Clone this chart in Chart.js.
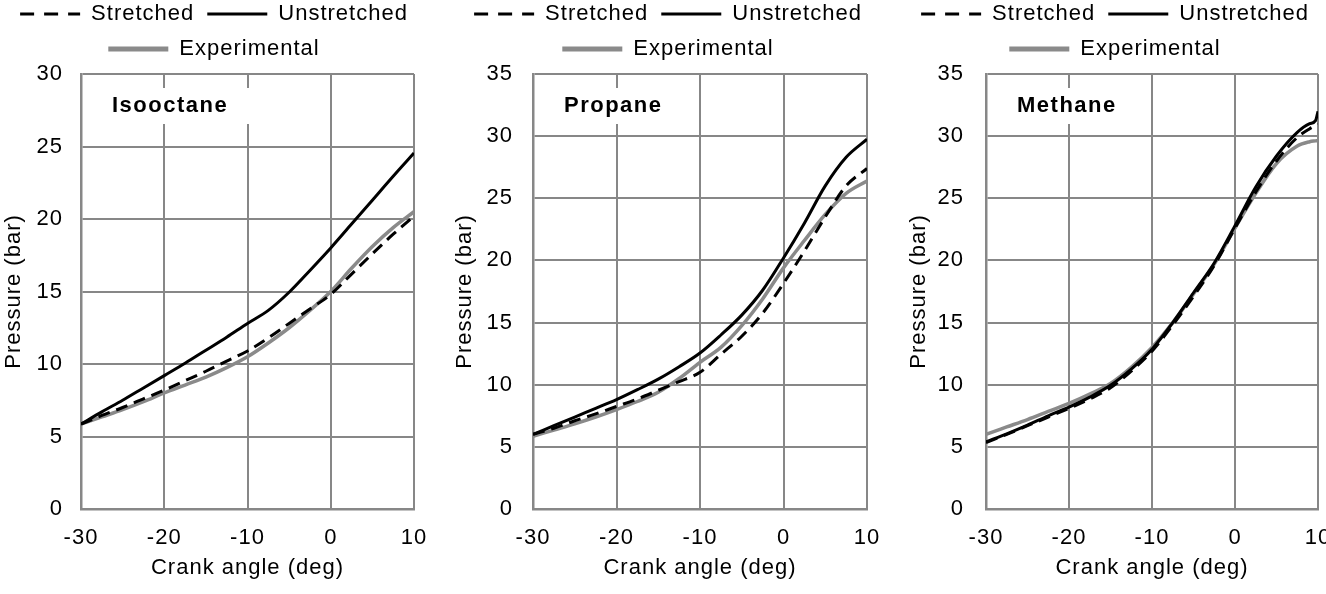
<!DOCTYPE html>
<html>
<head>
<meta charset="utf-8">
<script src="https://cdn.jsdelivr.net/npm/chart.js@4/dist/chart.umd.min.js"></script>
<style>
  html, body { margin: 0; padding: 0; background: #fff; }
  body { width: 1326px; height: 594px; overflow: hidden; position: relative; }
  canvas { position: absolute; top: -10px; }
</style>
</head>
<body>
<canvas id="iso" width="428" height="604" style="left:0px"></canvas>
<canvas id="propane" width="448" height="604" style="left:444px"></canvas>
<canvas id="methane" width="434" height="604" style="left:898px"></canvas>
<script>
// crank angle (deg) per panel
const anglesIso = [-30, -27.5, -25, -22.5, -20, -17.5, -15, -12.5, -10, -7.5, -5, -2.5, 0, 2.5, 5, 7.5, 10]
const anglesPropane = [-30, -27.5, -25, -22.5, -20, -17.5, -15, -12.5, -10, -7.5, -5, -2.5, 0, 2.5, 5, 7.5, 10]
const anglesMethane = [-30, -27.5, -25, -22.5, -20, -17.5, -15, -12.5, -10, -7.5, -5, -2.5, 0, 2.5, 5, 7.5, 9, 9.7, 10]

// pressure (bar)
const isoStretched = [5.85, 6.45, 7.0, 7.6, 8.2, 8.85, 9.5, 10.2, 10.9, 11.8, 12.8, 13.8, 14.8, 16.2, 17.6, 18.95, 20.2]
const isoUnstretched = [5.86, 6.7, 7.5, 8.35, 9.2, 10.05, 10.95, 11.85, 12.8, 13.7, 14.95, 16.45, 18.0, 19.65, 21.3, 22.95, 24.55]
const isoExperimental = [5.85, 6.35, 6.85, 7.4, 8.0, 8.55, 9.1, 9.75, 10.5, 11.45, 12.5, 13.7, 15.0, 16.6, 18.1, 19.4, 20.5]

const propStretched = [6.0, 6.5, 7.1, 7.65, 8.25, 8.85, 9.55, 10.25, 11.0, 12.45, 13.9, 15.75, 18.15, 20.75, 23.5, 26.0, 27.4]
const propUnstretched = [6.0, 6.7, 7.4, 8.1, 8.8, 9.6, 10.45, 11.45, 12.55, 14.0, 15.6, 17.6, 20.2, 23.0, 26.0, 28.3, 29.75]
const propExperimental = [5.85, 6.35, 6.85, 7.4, 8.0, 8.65, 9.4, 10.5, 11.8, 13.0, 14.75, 16.9, 19.4, 21.6, 23.7, 25.4, 26.4]

const methStretched = [5.35, 6.0, 6.7, 7.4, 8.1, 8.85, 9.75, 11.1, 12.7, 14.8, 17.1, 19.6, 22.6, 25.5, 28.0, 29.9, 30.6, 30.85, 30.95]
const methUnstretched = [5.4, 6.05, 6.75, 7.5, 8.2, 9.0, 9.95, 11.25, 12.85, 15.0, 17.4, 19.8, 22.8, 25.9, 28.4, 30.3, 31.0, 31.25, 32.0]
const methExperimental = [6.0, 6.6, 7.2, 7.85, 8.5, 9.25, 10.1, 11.4, 13.0, 15.0, 17.3, 19.7, 22.6, 25.4, 27.8, 29.2, 29.55, 29.62, 29.65]

const FONT = '"Liberation Sans", Arial, sans-serif'
const GRID = '#878787'

Chart.defaults.font.family = FONT
Chart.defaults.font.size = 22
Chart.defaults.color = '#000'

const pairs = (xs, ys) => xs.map((x, i) => ({x: x, y: ys[i]}))

// wider text like the original
const spacing = {
  id: 'spacing',
  beforeLayout(chart) { chart.ctx.letterSpacing = '1px' },
  beforeDraw(chart) { chart.ctx.letterSpacing = '1px' }
}

// bold fuel name in a white box inside the plot
const panelLabel = {
  id: 'panelLabel',
  beforeDatasetsDraw(chart, args, opts) {
    const {ctx, chartArea} = chart
    ctx.save()
    ctx.font = 'bold 22px ' + FONT
    ctx.letterSpacing = '1.5px'
    const w = ctx.measureText(opts.text).width
    const x = chartArea.left + 31
    const y = chartArea.top + 32
    ctx.fillStyle = '#fff'
    ctx.fillRect(x - 12, y - 18, w + 34, 36)
    ctx.fillStyle = '#000'
    ctx.textBaseline = 'middle'
    ctx.fillText(opts.text, x, y)
    ctx.restore()
  }
}

// legend line look per series
const legendDash = { Stretched: [14, 10], Unstretched: [], Experimental: [] }
const legendWidth = { Stretched: 3, Unstretched: 3, Experimental: 5 }

function makeChart(id, label, angles, stretched, unstretched, experimental, cfg) {
  return new Chart(document.getElementById(id), {
    type: 'line',
    data: {
      datasets: [
        {
          label: 'Stretched',
          data: pairs(angles, stretched),
          borderColor: '#000',
          backgroundColor: '#000',
          borderWidth: 3,
          borderDash: [12, 7]
        },
        {
          label: 'Unstretched',
          data: pairs(angles, unstretched),
          borderColor: '#000',
          backgroundColor: '#000',
          borderWidth: 3
        },
        {
          label: 'Experimental',
          data: pairs(angles, experimental),
          borderColor: '#8a8a8a',
          backgroundColor: '#8a8a8a',
          borderWidth: 3.5
        }
      ]
    },
    options: {
      responsive: false,
      animation: false,
      devicePixelRatio: 1,
      layout: { padding: 0 },
      elements: {
        point: { radius: 0 },
        line: { cubicInterpolationMode: 'monotone' }
      },
      scales: {
        x: {
          type: 'linear',
          min: -30,
          max: 10,
          ticks: { stepSize: 10, padding: 16, color: '#000' },
          grid: { color: GRID, lineWidth: 2, drawTicks: false },
          border: { color: GRID, width: 2.5 },
          title: { display: true, text: 'Crank angle (deg)', color: '#000', padding: { top: 0, bottom: 13 } },
          afterFit(scale) {
            scale.height = 85
            scale.paddingLeft = 0
            scale.paddingRight = 0
          }
        },
        y: {
          min: 0,
          max: cfg.yMax,
          ticks: { stepSize: 5, padding: cfg.tickPad, color: '#000' },
          grid: { color: GRID, lineWidth: 2, drawTicks: false },
          border: { color: GRID, width: 2.5 },
          title: { display: true, text: 'Pressure (bar)', color: '#000', padding: { top: cfg.titlePad, bottom: 0 } },
          afterFit(scale) {
            scale.width = cfg.yWidth
            scale.paddingTop = 0
            scale.paddingBottom = 0
          }
        },
        // empty strip on the right so the last x label has room
        yRight: {
          position: 'right',
          display: true,
          ticks: { display: false },
          grid: { display: false },
          border: { display: false },
          afterFit(scale) { scale.width = cfg.rightGap }
        }
      },
      plugins: {
        legend: {
          position: 'top',
          labels: {
            usePointStyle: true,
            pointStyle: 'line',
            pointStyleWidth: 60,
            padding: 13,
            color: '#000',
            generateLabels(chart) {
              const items = Chart.defaults.plugins.legend.labels.generateLabels(chart)
              items.forEach(it => {
                it.lineDash = legendDash[it.text]
                it.lineWidth = legendWidth[it.text]
              })
              return items
            }
          }
        },
        // spacer between legend and plot
        title: {
          display: true,
          text: '',
          weight: 500,
          font: { size: 1, lineHeight: 1 },
          padding: { top: 0, bottom: 3 }
        },
        tooltip: { enabled: false },
        panelLabel: { text: label }
      }
    },
    plugins: [spacing, panelLabel]
  })
}

makeChart('iso', 'Isooctane', anglesIso, isoStretched, isoUnstretched, isoExperimental,
  { yMax: 30, yWidth: 81, tickPad: 18, titlePad: 1, rightGap: 14 })
makeChart('propane', 'Propane', anglesPropane, propStretched, propUnstretched, propExperimental,
  { yMax: 35, yWidth: 89, tickPad: 20, titlePad: 8, rightGap: 25 })
makeChart('methane', 'Methane', anglesMethane, methStretched, methUnstretched, methExperimental,
  { yMax: 35, yWidth: 88, tickPad: 22, titlePad: 8, rightGap: 14 })
</script>
</body>
</html>
